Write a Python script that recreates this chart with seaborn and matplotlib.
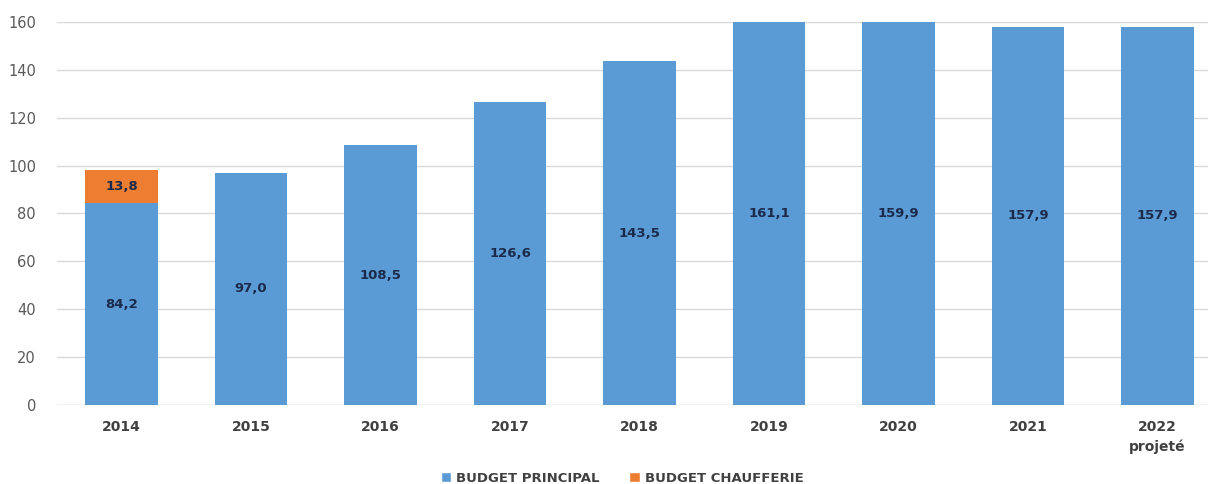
import matplotlib
matplotlib.use("Agg")
import matplotlib.pyplot as plt
import seaborn as sns
import pandas as pd
from matplotlib.patches import Patch

# Budget series (millions), one value per year
years = ["2014", "2015", "2016", "2017", "2018", "2019", "2020", "2021", "2022\nprojeté"]
budget_principal = [84.2, 97.0, 108.5, 126.6, 143.5, 161.1, 159.9, 157.9, 157.9]
budget_chaufferie = [13.8, 0, 0, 0, 0, 0, 0, 0, 0]
yticks = [0, 20, 40, 60, 80, 100, 120, 140, 160]

BLUE = "#5B9BD5"
ORANGE = "#ED7D31"
LABEL_COLOR = "#1B2A4A"

df = pd.DataFrame({"annee": years, "principal": budget_principal, "chaufferie": budget_chaufferie})

sns.set_theme(style="white")
plt.rcParams["font.family"] = ["DejaVu Sans"]

fig = plt.figure(figsize=(12.08, 4.84), dpi=100)
ax = fig.add_axes([0.047, 0.163, 0.953, 0.792])

sns.barplot(data=df, x="annee", y="principal", color=BLUE, saturation=1,
            width=0.56, linewidth=0, ax=ax)
sns.barplot(data=df, x="annee", y="chaufferie", color=ORANGE, saturation=1,
            width=0.56, linewidth=0, bottom=df["principal"], ax=ax)

ax.set_ylim(0, 160)
ax.set_xlim(-0.5, 8.39)
ax.set_yticks(yticks)
ax.set_xlabel("")
ax.set_ylabel("")

ax.yaxis.grid(True, color="#D9D9D9", linewidth=1)
ax.set_axisbelow(True)
for s in ax.spines.values():
    s.set_visible(False)
ax.axhline(0, color="#D9D9D9", linewidth=1, zorder=0.5)

ax.tick_params(axis="y", length=0, pad=15, labelsize=10.5, labelcolor="#595959")
ax.tick_params(axis="x", length=0, pad=11, labelsize=10, labelcolor="#404040")
for t in ax.get_xticklabels():
    t.set_fontweight("bold")
    t.set_linespacing(1.45)

# Value labels centred in each segment
for i, (p, c) in enumerate(zip(budget_principal, budget_chaufferie)):
    ax.text(i, min(p, 160) / 2, f"{p:.1f}".replace(".", ","), ha="center", va="center",
            fontsize=9.5, fontweight="bold", color=LABEL_COLOR)
    if c > 0:
        ax.text(i, p + c / 2, f"{c:.1f}".replace(".", ","), ha="center", va="center",
                fontsize=9.5, fontweight="bold", color=LABEL_COLOR)

handles = [Patch(facecolor=BLUE, label="BUDGET PRINCIPAL"),
           Patch(facecolor=ORANGE, label="BUDGET CHAUFFERIE")]
fig.legend(handles=handles, loc="center", bbox_to_anchor=(0.515, 0.012), ncol=2,
           frameon=False, handlelength=0.8, handleheight=0.8, handletextpad=0.4,
           columnspacing=2.2, prop={"size": 9.5, "weight": "bold"}, labelcolor="#404040")

fig.savefig("out.png", dpi=100)
